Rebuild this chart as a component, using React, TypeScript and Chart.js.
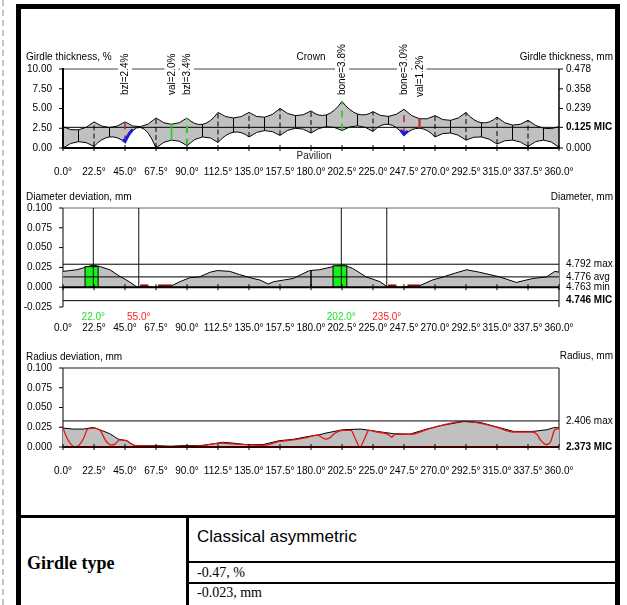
import React, { useEffect, useRef } from 'react';
import { Chart, registerables } from 'chart.js';

Chart.register(...registerables);

const SANS = 'Arial, "Liberation Sans", Helvetica, sans-serif';
const SERIF = '"Times New Roman", "Liberation Serif", Times, serif';
const GRAY = '#c0c0c0';

// ================= DATA =================
const angleTicks = [0, 22.5, 45, 67.5, 90, 112.5, 135, 157.5, 180, 202.5, 225, 247.5, 270, 292.5, 315, 337.5, 360];

// --- Girdle thickness, % (facet joints = cusps, between joints = mids)
const girdleCuspAngles = [0, 22.5, 45, 67.5, 90, 112.5, 135, 157.5, 180, 202.5, 225, 247.5, 270, 292.5, 315, 337.5, 360];
const girdleMidAngles = [11.25, 33.75, 56.25, 78.75, 101.25, 123.75, 146.25, 168.75, 191.25, 213.75, 236.25, 258.75, 281.25, 303.75, 326.25, 348.75];
const crownCusps = [2.7, 3.3, 3.3, 3.8, 3.8, 4.5, 4.5, 5.0, 4.7, 5.9, 4.6, 4.9, 4.1, 4.5, 3.9, 3.5, 2.7];
const crownValleys = [2.3, 2.6, 2.7, 3.0, 3.0, 3.8, 3.9, 4.1, 4.2, 4.3, 4.0, 3.7, 3.5, 3.2, 2.9, 2.5];
const pavilionCusps = [0.0, 0.2, 0.7, 0.0, 0.3, 0.7, 1.4, 1.6, 1.9, 2.2, 2.1, 1.6, 1.4, 1.0, 0.5, 0.2, 0.1];
const pavilionPeaks = [0.8, 1.4, 2.6, 1.0, 1.4, 2.0, 2.2, 2.5, 2.7, 2.8, 3.0, 2.5, 1.9, 1.4, 1.0, 1.0];
const girdleLeftTicks = [0, 2.5, 5, 7.5, 10];
const girdleMaxMm = 0.478;
const girdleMicMm = 0.125;
const girdleRightMm = [0.0, 0.125, 0.239, 0.358, 0.478];
const girdleMarkerAngles = [45, 78.75, 90, 202.5, 247.5, 258.75];
const girdleMarkerLabels = ['bzl=2.4%', 'val=2.0%', 'bzl=3.4%', 'bone=3.8%', 'bone=3.0%', 'val=1.2%'];
const girdleMarkerIsMin = [true, false, false, false, true, true];
const girdleBlueRanges = [[44, 50], [245.5, 249.5]];

// --- Diameter deviation, mm
const diameterAngles = [0, 5, 10, 16, 22, 27, 34, 41, 48, 53, 55, 61, 67, 75, 79, 85, 92, 99, 107, 112, 121, 128, 138, 143, 149, 153, 160, 167, 174, 179, 186, 196, 203, 210, 220, 230, 235, 245, 259, 268, 276, 285, 293, 302, 317, 329, 341, 351, 357, 360];
const diameterDev = [0.020, 0.021, 0.022, 0.025, 0.028, 0.026, 0.022, 0.014, 0.007, 0.001, 0.000, 0.001, 0.000, 0.001, 0.002, 0.007, 0.012, 0.013, 0.019, 0.021, 0.020, 0.016, 0.011, 0.009, 0.004, 0.007, 0.009, 0.011, 0.017, 0.021, 0.022, 0.026, 0.028, 0.024, 0.013, 0.007, 0.001, 0.000, 0.002, 0.009, 0.013, 0.018, 0.022, 0.019, 0.013, 0.006, 0.011, 0.013, 0.020, 0.019];
const diameterLeftTicks = [-0.025, 0, 0.025, 0.05, 0.075, 0.1];
const diameterRefNames = ['max', 'avg', 'min', 'MIC'];
const diameterRefValues = [4.792, 4.776, 4.763, 4.746];
const diameterBase = 4.763;
const diameterMarkAngles = [22.0, 55.0, 202.0, 235.0];
const diameterMarkIsMax = [true, false, true, false];
const diameterMaxBands = [[16, 25.5], [196, 206]];
const diameterMaxBandHeights = [0.026, 0.027];
const diameterMinBands = [[56, 62], [69, 79], [236, 242], [250, 259]];
const diameterAxisMark = 180;

// --- Radius deviation, mm
const radiusAngles = [0, 7, 15, 22, 28, 34, 40, 46, 52, 61, 70, 78, 90, 99, 109, 116, 123, 133, 145, 157, 167, 177, 186, 191, 203, 216, 228, 240, 252, 264, 274, 291, 303, 315, 327, 341, 351, 357, 360];
const radiusDev = [0.024, 0.0227, 0.0227, 0.0248, 0.021, 0.0168, 0.010, 0.008, 0.0016, 0.0016, 0.0016, 0.001, 0.002, 0.0016, 0.004, 0.006, 0.005, 0.003, 0.003, 0.008, 0.0097, 0.013, 0.0155, 0.0177, 0.0218, 0.0227, 0.0197, 0.0168, 0.0164, 0.0227, 0.027, 0.0324, 0.031, 0.0253, 0.0197, 0.0197, 0.0218, 0.0248, 0.024];
const radiusFitAngles = [0, 3, 6, 9, 12, 15, 18, 22, 27, 30, 33, 35, 38, 41, 46, 52, 61, 70, 78, 90, 99, 109, 116, 123, 133, 145, 157, 167, 177, 185, 188, 191, 194, 197, 203, 209, 212, 215.5, 219, 222, 228, 236, 238.5, 241, 252, 264, 274, 291, 303, 315, 327, 341, 344, 347, 351, 354, 357, 360];
const radiusFit = [0.024, 0.011, 0.003, 0.000, 0.003, 0.011, 0.023, 0.024, 0.021, 0.011, 0.004, 0.0025, 0.004, 0.009, 0.008, 0.002, 0.001, 0.001, 0.000, 0.001, 0.001, 0.004, 0.005, 0.004, 0.003, 0.002, 0.007, 0.009, 0.012, 0.015, 0.012, 0.010, 0.012, 0.017, 0.021, 0.021, 0.011, 0.000, 0.011, 0.021, 0.019, 0.016, 0.0125, 0.016, 0.016, 0.022, 0.027, 0.0325, 0.030, 0.025, 0.019, 0.019, 0.016, 0.008, 0.003, 0.007, 0.022, 0.023];
const radiusLeftTicks = [0, 0.025, 0.05, 0.075, 0.1];
const radiusRefNames = ['max', 'MIC'];
const radiusRefValues = [2.406, 2.373];
const radiusBase = 2.373;

// ================= HELPERS =================
const font10 = { family: SANS, size: 10 };

function seg(ctx: CanvasRenderingContext2D, x1: number, y1: number, x2: number, y2: number, color: string, width: number, dash: number[] = []) {
  ctx.save();
  ctx.beginPath();
  ctx.setLineDash(dash);
  ctx.strokeStyle = color;
  ctx.lineWidth = width;
  ctx.moveTo(x1, y1);
  ctx.lineTo(x2, y2);
  ctx.stroke();
  ctx.restore();
}

function text(ctx: CanvasRenderingContext2D, s: string, x: number, y: number, align: CanvasTextAlign, color = '#000', weight = 'normal') {
  ctx.save();
  ctx.font = `${weight} 10px ${SANS}`;
  ctx.fillStyle = color;
  ctx.textAlign = align;
  ctx.textBaseline = 'middle';
  ctx.fillText(s, x, y);
  ctx.restore();
}

const noGrid = { display: false, drawTicks: false, tickLength: 0 };

function xScale(padding: number, height: number) {
  return {
    type: 'linear',
    min: 0,
    max: 360,
    afterBuildTicks: (s: any) => { s.ticks = angleTicks.map((v) => ({ value: v })); },
    afterFit: (s: any) => { s.height = height; },
    ticks: { callback: (v: any) => Number(v).toFixed(1) + '°', font: font10, color: '#000', padding, maxRotation: 0, autoSkip: false },
    grid: noGrid,
    border: { display: false },
  };
}

function leftScale(min: number, max: number, ticks: number[], digits: number) {
  return {
    type: 'linear',
    position: 'left',
    min,
    max,
    afterBuildTicks: (s: any) => { s.ticks = ticks.map((v) => ({ value: v })); },
    afterFit: (s: any) => { s.width = 42; },
    ticks: { callback: (v: any) => Number(v).toFixed(digits), font: font10, color: '#000', padding: 11, autoSkip: false },
    grid: noGrid,
    border: { display: false },
  };
}

function rightScale(min: number, max: number, vals: number[], labels: string[], boldLabel: string) {
  return {
    type: 'linear',
    position: 'right',
    min,
    max,
    afterBuildTicks: (s: any) => { s.ticks = vals.map((v) => ({ value: v })); },
    afterFit: (s: any) => { s.width = 58; },
    ticks: {
      callback: (_v: any, i: number) => labels[i],
      font: (c: any) => ({ family: SANS, size: 10, weight: labels[c.index] && labels[c.index].includes(boldLabel) ? 'bold' : 'normal' }),
      color: '#000',
      padding: 7,
      autoSkip: false,
    },
    grid: noGrid,
    border: { display: false },
  };
}

function drawXAxis(chart: any, color: string, width: number) {
  const { ctx, chartArea: ca } = chart;
  const y0 = chart.scales.y.getPixelForValue(0);
  seg(ctx, ca.left, y0, ca.right, y0, color, width);
  angleTicks.forEach((a) => {
    const x = chart.scales.x.getPixelForValue(a);
    seg(ctx, x, y0 - 3, x, y0 + 3, '#000', 1);
  });
}

function drawLeftTicks(chart: any, vals: number[]) {
  const { ctx, chartArea: ca } = chart;
  vals.forEach((v) => {
    const y = chart.scales.y.getPixelForValue(v);
    seg(ctx, ca.left - 4, y, ca.left, y, '#000', 1);
  });
}

function scallop(cusps: number[], mids: number[], a: number) {
  const step = girdleCuspAngles[1] - girdleCuspAngles[0];
  const k = Math.min(Math.floor(a / step), mids.length - 1);
  const t = (a - girdleCuspAngles[k]) / step;
  const c0 = cusps[k];
  const c1 = cusps[k + 1];
  const cc = 2 * mids[k] - (c0 + c1) / 2;
  return (1 - t) * (1 - t) * c0 + 2 * t * (1 - t) * cc + t * t * c1;
}

// ================= CHART 1: GIRDLE =================
const micPct = (girdleMicMm / girdleMaxMm) * 10;

const girdlePlugin = {
  id: 'girdle',
  beforeDatasetsDraw(chart: any) {
    const { ctx, chartArea: ca } = chart;
    const px = (a: number) => chart.scales.x.getPixelForValue(a);
    const py = (v: number) => chart.scales.y.getPixelForValue(v);
    const n = girdleMidAngles.length;

    const traceCrown = () => {
      ctx.moveTo(px(girdleCuspAngles[0]), py(crownCusps[0]));
      for (let k = 0; k < n; k++) {
        const c = 2 * crownValleys[k] - (crownCusps[k] + crownCusps[k + 1]) / 2;
        ctx.quadraticCurveTo(px(girdleMidAngles[k]), py(c), px(girdleCuspAngles[k + 1]), py(crownCusps[k + 1]));
      }
    };
    const tracePavilion = (reverse: boolean) => {
      if (!reverse) {
        ctx.moveTo(px(girdleCuspAngles[0]), py(pavilionCusps[0]));
        for (let k = 0; k < n; k++) {
          const c = 2 * pavilionPeaks[k] - (pavilionCusps[k] + pavilionCusps[k + 1]) / 2;
          ctx.quadraticCurveTo(px(girdleMidAngles[k]), py(c), px(girdleCuspAngles[k + 1]), py(pavilionCusps[k + 1]));
        }
      } else {
        ctx.lineTo(px(girdleCuspAngles[n]), py(pavilionCusps[n]));
        for (let k = n - 1; k >= 0; k--) {
          const c = 2 * pavilionPeaks[k] - (pavilionCusps[k] + pavilionCusps[k + 1]) / 2;
          ctx.quadraticCurveTo(px(girdleMidAngles[k]), py(c), px(girdleCuspAngles[k]), py(pavilionCusps[k]));
        }
      }
    };

    ctx.save();
    ctx.beginPath();
    traceCrown();
    tracePavilion(true);
    ctx.closePath();
    ctx.fillStyle = GRAY;
    ctx.fill();
    ctx.restore();

    // inner facet lines
    for (let k = 1; k < girdleCuspAngles.length - 1; k++) {
      const a = girdleCuspAngles[k];
      if (girdleMarkerAngles.includes(a)) continue;
      seg(ctx, px(a), py(pavilionCusps[k]), px(a), py(crownCusps[k]), '#000', 1, [5, 3]);
    }
    for (let k = 0; k < n; k++) {
      const a = girdleMidAngles[k];
      if (girdleMarkerAngles.includes(a)) continue;
      seg(ctx, px(a), py(scallop(pavilionCusps, pavilionPeaks, a)), px(a), py(scallop(crownCusps, crownValleys, a)), '#000', 1);
    }

    // outlines
    ctx.save();
    ctx.strokeStyle = '#000';
    ctx.lineWidth = 1;
    ctx.beginPath();
    traceCrown();
    ctx.stroke();
    ctx.beginPath();
    tracePavilion(false);
    ctx.stroke();
    ctx.restore();

    // MIC line
    seg(ctx, ca.left, py(micPct), ca.right, py(micPct), '#000', 1);

    // markers
    girdleMarkerAngles.forEach((a, i) => {
      const isCusp = girdleCuspAngles.includes(a);
      const color = girdleMarkerIsMin[i] ? '#c0282d' : '#1fd01f';
      const w = a === 90 || a === 258.75 ? 2.2 : 1.6;
      const top = scallop(crownCusps, crownValleys, a);
      const bot = scallop(pavilionCusps, pavilionPeaks, a);
      seg(ctx, px(a), py(bot), px(a), py(top), color, w, isCusp ? [7, 6] : []);
    });

    // blue zones along pavilion outline
    girdleBlueRanges.forEach(([a0, a1]) => {
      ctx.save();
      ctx.beginPath();
      ctx.strokeStyle = '#1a1adc';
      ctx.lineWidth = 3;
      ctx.lineCap = 'round';
      for (let a = a0; a <= a1 + 1e-6; a += 0.5) {
        const x = px(a);
        const y = py(scallop(pavilionCusps, pavilionPeaks, a)) - 1;
        if (a === a0) ctx.moveTo(x, y); else ctx.lineTo(x, y);
      }
      ctx.stroke();
      ctx.restore();
    });

    // axes
    seg(ctx, ca.left, ca.top, ca.right, ca.top, '#444', 1);
    seg(ctx, ca.left, ca.top - 1, ca.left, ca.bottom + 1, '#000', 2);
    seg(ctx, ca.right, ca.top, ca.right, ca.bottom + 1, '#000', 1.5);
    drawXAxis(chart, '#000', 2);
    drawLeftTicks(chart, girdleLeftTicks);
    girdleRightMm.forEach((mm) => {
      const y = py((mm / girdleMaxMm) * 10);
      seg(ctx, ca.right, y, ca.right + 4, y, '#000', 1);
    });

    // rotated labels
    girdleMarkerAngles.forEach((a, i) => {
      const label = girdleMarkerLabels[i];
      const x = px(a);
      const yb = ca.top + (a === 258.75 ? 28 : 26);
      ctx.save();
      ctx.translate(x, yb);
      ctx.rotate(-Math.PI / 2);
      ctx.font = `10px ${SANS}`;
      const w = ctx.measureText(label).width;
      ctx.fillStyle = '#fff';
      ctx.fillRect(-1, -7, w + 3, 14);
      ctx.fillStyle = '#000';
      ctx.textAlign = 'left';
      ctx.textBaseline = 'middle';
      ctx.fillText(label, 0, 0.5);
      ctx.restore();
    });

    // titles
    text(ctx, 'Girdle thickness, %', ca.left - 37, ca.top - 12, 'left');
    text(ctx, 'Crown', (ca.left + ca.right) / 2, ca.top - 12, 'center');
    text(ctx, 'Girdle thickness, mm', ca.right + 54, ca.top - 12, 'right');
    text(ctx, 'Pavilion', (ca.left + ca.right) / 2 + 3, ca.bottom + 8, 'center', '#222');
  },
};

function girdleConfig(): any {
  return {
    type: 'line',
    data: { datasets: [{ data: girdleCuspAngles.map((a, i) => ({ x: a, y: crownCusps[i] })), showLine: false, pointRadius: 0 }] },
    options: {
      animation: false,
      responsive: false,
      events: [],
      layout: { padding: { top: 29, bottom: 0, left: 0, right: 0 } },
      plugins: { legend: { display: false }, tooltip: { enabled: false } },
      scales: {
        x: xScale(18, 34),
        y: leftScale(0, 10, girdleLeftTicks, 2),
        y2: rightScale(
          0,
          10,
          girdleRightMm.map((mm) => (mm / girdleMaxMm) * 10),
          girdleRightMm.map((mm) => mm.toFixed(3) + (mm === girdleMicMm ? ' MIC' : '')),
          'MIC',
        ),
      },
    },
    plugins: [girdlePlugin],
  };
}

// ================= CHART 2: DIAMETER =================
const diameterPlugin = {
  id: 'diameter',
  beforeDatasetsDraw(chart: any) {
    const { ctx, chartArea: ca } = chart;
    seg(ctx, ca.left, ca.top, ca.right, ca.top, '#666', 1);
    seg(ctx, ca.left, ca.top, ca.left, ca.bottom, '#555', 1.5);
    seg(ctx, ca.right, ca.top, ca.right, ca.bottom, '#555', 1.5);
    drawLeftTicks(chart, diameterLeftTicks);
  },
  afterDatasetsDraw(chart: any) {
    const { ctx, chartArea: ca } = chart;
    const px = (a: number) => chart.scales.x.getPixelForValue(a);
    const py = (v: number) => chart.scales.y.getPixelForValue(v);

    diameterMaxBands.forEach(([a0, a1], i) => {
      const x0 = px(a0), x1 = px(a1), y0 = py(0), y1 = py(diameterMaxBandHeights[i]);
      ctx.save();
      ctx.fillStyle = '#19f019';
      ctx.fillRect(x0, y1, x1 - x0, y0 - y1);
      ctx.strokeStyle = '#000';
      ctx.lineWidth = 1;
      ctx.strokeRect(x0, y1, x1 - x0, y0 - y1);
      ctx.restore();
    });
    diameterMinBands.forEach(([a0, a1]) => {
      seg(ctx, px(a0), py(0) - 1.5, px(a1), py(0) - 1.5, '#8a0a0a', 2.5);
    });

    diameterRefValues.forEach((v, i) => {
      if (diameterRefNames[i] === 'min') return;
      const y = py(v - diameterBase);
      seg(ctx, ca.left, y, ca.right, y, '#000', 1);
    });
    diameterMarkAngles.forEach((a) => {
      seg(ctx, px(a), ca.top, px(a), py(0), '#111', 1);
    });
    const idx = diameterAngles.findIndex((a) => a >= diameterAxisMark - 1);
    seg(ctx, px(diameterAxisMark), py(0), px(diameterAxisMark), py(diameterDev[idx]), '#000', 1.5);
    drawXAxis(chart, '#000', 2);

    diameterMarkAngles.forEach((a, i) => {
      text(ctx, a.toFixed(1) + '°', px(a), ca.bottom + 10, 'center', diameterMarkIsMax[i] ? '#22e022' : '#ff2020');
    });
    text(ctx, 'Diameter deviation, mm', ca.left - 37, ca.top - 11, 'left');
    text(ctx, 'Diameter, mm', ca.right + 54, ca.top - 11, 'right');
  },
};

function diameterConfig(): any {
  const vals = diameterRefValues.map((v) => v - diameterBase);
  const labels = diameterRefValues.map((v, i) => v.toFixed(3) + ' ' + diameterRefNames[i]);
  return {
    type: 'line',
    data: {
      datasets: [{
        data: diameterAngles.map((a, i) => ({ x: a, y: diameterDev[i] })),
        borderColor: '#000',
        borderWidth: 1,
        backgroundColor: GRAY,
        fill: 'origin',
        pointRadius: 0,
        tension: 0,
      }],
    },
    options: {
      animation: false,
      responsive: false,
      events: [],
      layout: { padding: { top: 23, bottom: 0, left: 0, right: 0 } },
      plugins: { legend: { display: false }, tooltip: { enabled: false } },
      scales: {
        x: xScale(15, 38),
        y: leftScale(-0.025, 0.1, diameterLeftTicks, 3),
        y2: rightScale(-0.025, 0.1, vals, labels, 'MIC'),
      },
    },
    plugins: [diameterPlugin],
  };
}

// ================= CHART 3: RADIUS =================
const radiusPlugin = {
  id: 'radius',
  beforeDatasetsDraw(chart: any) {
    const { ctx, chartArea: ca } = chart;
    seg(ctx, ca.left, ca.top, ca.right, ca.top, '#666', 1.5);
    seg(ctx, ca.left, ca.top, ca.left, ca.bottom, '#555', 1.5);
    seg(ctx, ca.right, ca.top, ca.right, ca.bottom, '#555', 1.5);
    drawLeftTicks(chart, radiusLeftTicks);
  },
  afterDatasetsDraw(chart: any) {
    const { ctx, chartArea: ca } = chart;
    const py = (v: number) => chart.scales.y.getPixelForValue(v);
    radiusRefValues.forEach((v, i) => {
      if (radiusRefNames[i] === 'MIC') return;
      const y = py(v - radiusBase);
      seg(ctx, ca.left, y, ca.right, y, '#000', 1);
    });
    drawXAxis(chart, '#3a0000', 2);
    text(ctx, 'Radius deviation, mm', ca.left - 37, ca.top - 11, 'left');
    text(ctx, 'Radius, mm', ca.right + 54, ca.top - 12, 'right');
  },
};

function radiusConfig(): any {
  const vals = radiusRefValues.map((v) => v - radiusBase);
  const labels = radiusRefValues.map((v, i) => v.toFixed(3) + ' ' + radiusRefNames[i]);
  return {
    type: 'line',
    data: {
      datasets: [
        {
          data: radiusFitAngles.map((a, i) => ({ x: a, y: radiusFit[i] })),
          borderColor: '#e81010',
          borderWidth: 1.3,
          fill: false,
          pointRadius: 0,
          cubicInterpolationMode: 'monotone',
        },
        {
          data: radiusAngles.map((a, i) => ({ x: a, y: radiusDev[i] })),
          borderColor: '#000',
          borderWidth: 1,
          backgroundColor: GRAY,
          fill: 'origin',
          pointRadius: 0,
          tension: 0,
        },
      ],
    },
    options: {
      animation: false,
      responsive: false,
      events: [],
      layout: { padding: { top: 23, bottom: 0, left: 0, right: 0 } },
      plugins: { legend: { display: false }, tooltip: { enabled: false } },
      scales: {
        x: xScale(18, 63),
        y: leftScale(0, 0.1, radiusLeftTicks, 3),
        y2: rightScale(0, 0.1, vals, labels, 'MIC'),
      },
    },
    plugins: [radiusPlugin],
  };
}

// ================= APP =================
export default function App() {
  const r1 = useRef<HTMLCanvasElement>(null);
  const r2 = useRef<HTMLCanvasElement>(null);
  const r3 = useRef<HTMLCanvasElement>(null);

  useEffect(() => {
    const c1 = new Chart(r1.current as HTMLCanvasElement, girdleConfig());
    const c2 = new Chart(r2.current as HTMLCanvasElement, diameterConfig());
    const c3 = new Chart(r3.current as HTMLCanvasElement, radiusConfig());
    return () => {
      c1.destroy();
      c2.destroy();
      c3.destroy();
    };
  }, []);

  const abs = (s: React.CSSProperties): React.CSSProperties => ({ position: 'absolute', ...s });

  return (
    <div style={{ position: 'fixed', left: 0, top: 0, width: 627, height: 605, background: '#fff', overflow: 'hidden' }}>
      <div style={abs({ left: 2, top: 0, height: 605, width: 0, borderLeft: '2px dashed #c4c4c4' })} />
      <div style={abs({ left: 16, top: 4, width: 594, height: 700, borderLeft: '5px solid #000', borderTop: '5px solid #000', borderRight: '5px solid #000' })} />
      <canvas ref={r1} width={596} height={142} style={abs({ left: 21, top: 40, width: 596, height: 142 })} />
      <canvas ref={r2} width={596} height={160} style={abs({ left: 21, top: 185, width: 596, height: 160 })} />
      <canvas ref={r3} width={596} height={165} style={abs({ left: 21, top: 345, width: 596, height: 165 })} />

      <div style={abs({ left: 21, top: 515, width: 594, height: 3, background: '#000' })} />
      <div style={abs({ left: 186, top: 517, width: 3, height: 100, background: '#000' })} />
      <div style={abs({ left: 189, top: 561, width: 426, height: 2, background: '#000' })} />
      <div style={abs({ left: 189, top: 582, width: 426, height: 2, background: '#000' })} />

      <div style={abs({ left: 27, top: 553, fontFamily: SERIF, fontWeight: 'bold', fontSize: 18, lineHeight: '20px', whiteSpace: 'nowrap' })}>Girdle type</div>
      <div style={abs({ left: 197, top: 527, fontFamily: SANS, fontSize: 17, lineHeight: '20px', whiteSpace: 'nowrap' })}>Classical asymmetric</div>
      <div style={abs({ left: 197, top: 565, fontFamily: SERIF, fontSize: 14, lineHeight: '16px', whiteSpace: 'nowrap' })}>-0.47, %</div>
      <div style={abs({ left: 197, top: 585, fontFamily: SERIF, fontSize: 14, lineHeight: '16px', whiteSpace: 'nowrap' })}>-0.023, mm</div>
    </div>
  );
}
